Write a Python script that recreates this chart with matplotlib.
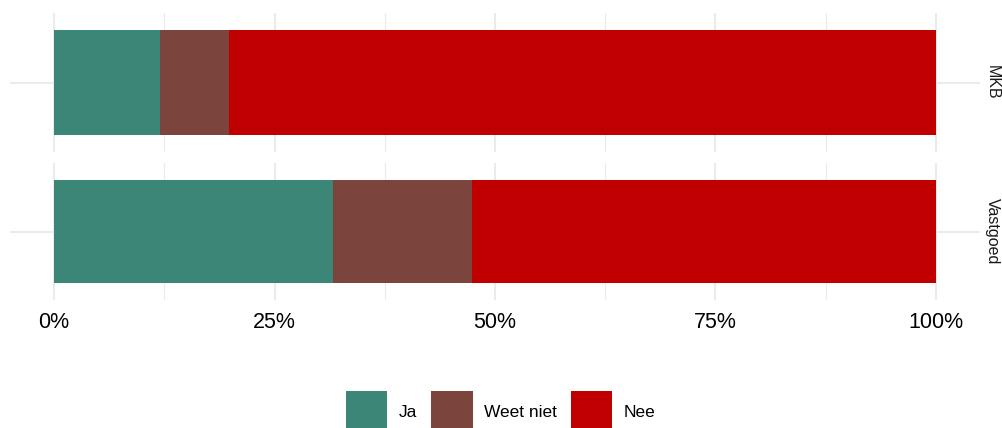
import matplotlib
matplotlib.use("Agg")
import matplotlib.pyplot as plt
from matplotlib.patches import Patch

plt.rcParams["font.family"] = ["Liberation Sans", "DejaVu Sans"]

# ── Data ───────────────────────────────────────────────────────────────────
panels = ["MKB", "Vastgoed"]
answers = ["Ja", "Weet niet", "Nee"]
shares = {
    "MKB": [12.0, 7.8, 80.2],
    "Vastgoed": [31.6, 15.8, 52.6],
}
colors = ["#3B8676", "#7B443D", "#C00000"]
xticks = [0, 25, 50, 75, 100]
xticklabels = ["0%", "25%", "50%", "75%", "100%"]

grid_col = "#EBEBEB"

fig = plt.figure(figsize=(10.03, 4.28), dpi=100)
W, H = 1003, 428
# panel boxes in pixels: (left, top, right, bottom)
boxes = [(10, 13, 980, 152), (10, 163, 980, 300)]

for i, (name, (l, t, r, b)) in enumerate(zip(panels, boxes)):
    ax = fig.add_axes([l / W, 1 - b / H, (r - l) / W, (b - t) / H])
    left = 0.0
    for val, col in zip(shares[name], colors):
        ax.barh(0, val, left=left, height=0.9, color=col, zorder=3)
        left += val
    ax.set_xlim(-5, 105)
    ax.set_ylim(-0.6, 0.6)
    ax.set_xticks(xticks)
    ax.set_xticks([12.5, 37.5, 62.5, 87.5], minor=True)
    ax.set_yticks([0])
    ax.grid(True, which="major", axis="both", color=grid_col, lw=1.5, zorder=0)
    ax.grid(True, which="minor", axis="x", color=grid_col, lw=0.8, zorder=0)
    ax.tick_params(which="both", length=0)
    ax.set_yticklabels([])
    for s in ax.spines.values():
        s.set_visible(False)
    if i == len(panels) - 1:
        ax.set_xticklabels(xticklabels, fontsize=15.5, color="black")
        ax.tick_params(axis="x", pad=9)
    else:
        ax.set_xticklabels([])
    ax.text(1.005, 0.5, name, transform=ax.transAxes, rotation=-90,
            ha="left", va="center", fontsize=11.5, color="#1A1A1A")

handles = [Patch(facecolor=c, edgecolor="none", label=a) for a, c in zip(answers, colors)]
fig.legend(handles=handles, loc="upper center", bbox_to_anchor=(0.499, 1 - 391 / H),
           ncol=3, frameon=False, fontsize=12.5, handlelength=2.4, handleheight=3.35,
           handletextpad=0.65, columnspacing=0.8, borderpad=0, borderaxespad=0)

fig.savefig("out.png", dpi=100)
